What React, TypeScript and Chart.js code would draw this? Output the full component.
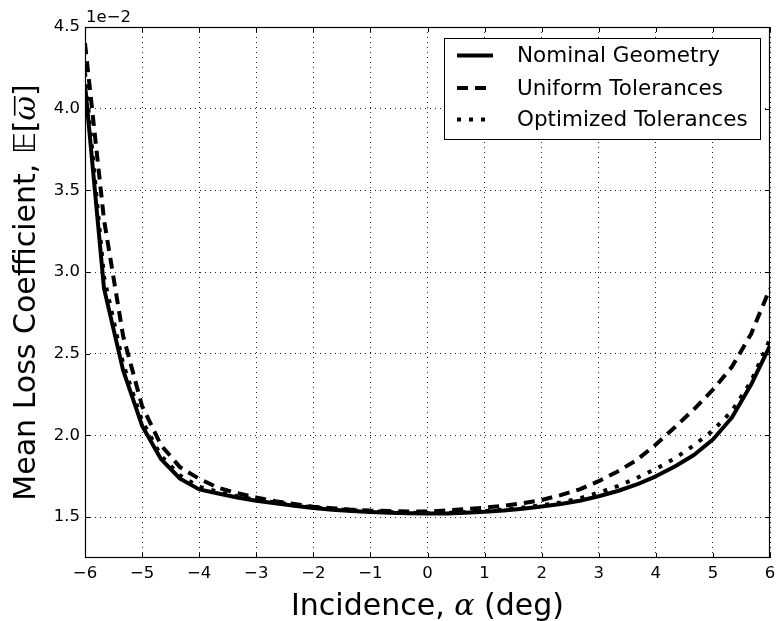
import React, { useEffect, useRef } from "react";
import { Chart, registerables } from "chart.js";

Chart.register(...registerables);

// Incidence angle (deg), sampled every 1/3 degree
const incidence = [
  -6, -5.667, -5.333, -5, -4.667, -4.333, -4, -3.667, -3.333, -3, -2.667, -2.333,
  -2, -1.667, -1.333, -1, -0.667, -0.333, 0, 0.333, 0.667, 1, 1.333, 1.667,
  2, 2.333, 2.667, 3, 3.333, 3.667, 4, 4.333, 4.667, 5, 5.333, 5.667, 6,
];

// Mean loss coefficient, in units of 1e-2
const nominalGeometry = [
  4.15, 2.9, 2.4, 2.06, 1.855, 1.735, 1.67, 1.645, 1.62, 1.6, 1.585, 1.57,
  1.556, 1.546, 1.538, 1.532, 1.527, 1.524, 1.522, 1.523, 1.527, 1.533, 1.541, 1.552,
  1.565, 1.58, 1.6, 1.628, 1.66, 1.7, 1.75, 1.81, 1.88, 1.975, 2.11, 2.31, 2.55,
];
const uniformTolerances = [
  4.4, 3.32, 2.61, 2.18, 1.94, 1.805, 1.735, 1.68, 1.647, 1.62, 1.597, 1.58,
  1.564, 1.555, 1.546, 1.54, 1.537, 1.535, 1.534, 1.542, 1.55, 1.558, 1.569, 1.585,
  1.605, 1.635, 1.67, 1.72, 1.78, 1.85, 1.945, 2.05, 2.16, 2.28, 2.42, 2.62, 2.9,
];
const optimizedTolerances = [
  4.22, 2.97, 2.44, 2.09, 1.875, 1.755, 1.685, 1.655, 1.628, 1.607, 1.59, 1.575,
  1.56, 1.55, 1.542, 1.536, 1.531, 1.527, 1.525, 1.527, 1.531, 1.537, 1.546, 1.558,
  1.573, 1.59, 1.615, 1.65, 1.69, 1.74, 1.795, 1.86, 1.94, 2.03, 2.15, 2.33, 2.59,
];

const seriesLabels = ["Nominal Geometry", "Uniform Tolerances", "Optimized Tolerances"];

const xTicks = [-6, -5, -4, -3, -2, -1, 0, 1, 2, 3, 4, 5, 6];
const yTicks = [1.5, 2.0, 2.5, 3.0, 3.5, 4.0, 4.5];
const yOffsetLabel = "1e\u22122";

const SANS = "'DejaVu Sans', 'Bitstream Vera Sans', sans-serif";
const SERIF = "'DejaVu Serif', serif";

type Run = { text: string; font: string; bar?: boolean };

function runsWidth(ctx: CanvasRenderingContext2D, runs: Run[]) {
  let w = 0;
  for (const r of runs) {
    ctx.font = r.font;
    w += ctx.measureText(r.text).width;
  }
  return w;
}

function drawRuns(ctx: CanvasRenderingContext2D, runs: Run[], xStart: number, y: number, size: number) {
  let x = xStart;
  for (const r of runs) {
    ctx.font = r.font;
    const w = ctx.measureText(r.text).width;
    ctx.fillText(r.text, x, y);
    if (r.bar) {
      ctx.save();
      ctx.lineWidth = 1.6;
      ctx.beginPath();
      const by = y - size * 0.66;
      ctx.moveTo(x + w * 0.2, by);
      ctx.lineTo(x + w * 1.0, by);
      ctx.stroke();
      ctx.restore();
    }
    x += w;
  }
}

const axesDecorations = {
  id: "axesDecorations",
  afterDraw(chart: any) {
    const { ctx, chartArea, scales } = chart;
    const { left, right, top, bottom } = chartArea;
    ctx.save();
    ctx.strokeStyle = "#000";
    ctx.fillStyle = "#000";

    // inward tick marks on all four sides
    ctx.lineWidth = 1;
    ctx.beginPath();
    const tl = 5;
    for (const v of xTicks) {
      const px = Math.round(scales.x.getPixelForValue(v)) + 0.5;
      ctx.moveTo(px, bottom);
      ctx.lineTo(px, bottom - tl);
      ctx.moveTo(px, top);
      ctx.lineTo(px, top + tl);
    }
    for (const v of yTicks) {
      const py = Math.round(scales.y.getPixelForValue(v)) + 0.5;
      ctx.moveTo(left, py);
      ctx.lineTo(left + tl, py);
      ctx.moveTo(right, py);
      ctx.lineTo(right - tl, py);
    }
    ctx.stroke();

    // axes frame
    ctx.lineWidth = 1.2;
    ctx.strokeRect(left + 0.5, top + 0.5, right - left - 1, bottom - top - 1);

    // scale offset text
    ctx.font = `16.5px ${SANS}`;
    ctx.textAlign = "left";
    ctx.textBaseline = "alphabetic";
    ctx.fillText(yOffsetLabel, left + 1, top - 5);

    // x axis title
    const xs = 30;
    const xRuns: Run[] = [
      { text: "Incidence, ", font: `${xs}px ${SANS}` },
      { text: "\u03b1", font: `italic ${xs}px ${SERIF}` },
      { text: " (deg)", font: `${xs}px ${SANS}` },
    ];
    const xw = runsWidth(ctx, xRuns);
    drawRuns(ctx, xRuns, (left + right) / 2 - xw / 2, 615, xs);

    // y axis title
    const ys = 30;
    const yRuns: Run[] = [
      { text: "Mean Loss Coefficient, ", font: `${ys}px ${SANS}` },
      { text: "\ud835\udd3c", font: `${ys}px ${SANS}` },
      { text: "[", font: `${ys}px ${SANS}` },
      { text: "\u03c9", font: `italic ${ys}px ${SERIF}`, bar: true },
      { text: "]", font: `${ys}px ${SANS}` },
    ];
    const yw = runsWidth(ctx, yRuns);
    ctx.save();
    ctx.translate(34.5, (top + bottom) / 2);
    ctx.rotate(-Math.PI / 2);
    drawRuns(ctx, yRuns, -yw / 2, 0, ys);
    ctx.restore();

    // legend
    const box = { x: 444.5, y: 38.5, w: 316, h: 101 };
    ctx.fillStyle = "#fff";
    ctx.fillRect(box.x, box.y, box.w, box.h);
    ctx.lineWidth = 1;
    ctx.strokeRect(box.x, box.y, box.w, box.h);
    const rows = [55.5, 88, 119.5];
    ctx.font = `21.5px ${SANS}`;
    ctx.textBaseline = "middle";
    chart.data.datasets.forEach((ds: any, i: number) => {
      const y = rows[i];
      ctx.save();
      ctx.strokeStyle = ds.borderColor;
      ctx.lineWidth = ds.borderWidth;
      ctx.setLineDash(ds.borderDash || []);
      ctx.lineCap = "butt";
      ctx.beginPath();
      ctx.moveTo(457, y);
      ctx.lineTo(493, y);
      ctx.stroke();
      ctx.restore();
      ctx.fillStyle = "#000";
      ctx.fillText(ds.label, 517, y + 1);
    });

    ctx.restore();
  },
};

export default function App() {
  const canvasRef = useRef<HTMLCanvasElement | null>(null);

  useEffect(() => {
    const canvas = canvasRef.current;
    if (!canvas) return;

    Chart.defaults.font.family = SANS;
    Chart.defaults.color = "#000";

    const toPoints = (ys: number[]) => incidence.map((x, i) => ({ x, y: ys[i] }));

    const chart = new Chart(canvas, {
      type: "line",
      data: {
        datasets: [
          {
            label: seriesLabels[0],
            data: toPoints(nominalGeometry),
            borderColor: "#000",
            borderWidth: 4,
            borderDash: [],
            order: 3,
          },
          {
            label: seriesLabels[1],
            data: toPoints(uniformTolerances),
            borderColor: "#000",
            borderWidth: 4,
            borderDash: [11, 7],
            order: 2,
          },
          {
            label: seriesLabels[2],
            data: toPoints(optimizedTolerances),
            borderColor: "#000",
            borderWidth: 4,
            borderDash: [4, 8],
            order: 1,
          },
        ],
      },
      options: {
        responsive: false,
        animation: false,
        parsing: false,
        layout: { padding: { top: 27, right: 6, left: 0, bottom: 0 } },
        elements: {
          point: { radius: 0, hoverRadius: 0 },
          line: { tension: 0, fill: false, borderJoinStyle: "round", borderCapStyle: "butt" },
        },
        plugins: {
          legend: { display: false },
          tooltip: { enabled: false },
        },
        scales: {
          x: {
            type: "linear",
            min: -6,
            max: 6,
            afterBuildTicks: (s: any) => {
              s.ticks = xTicks.map((value) => ({ value }));
            },
            afterFit: (s: any) => {
              s.height = 63;
              s.paddingLeft = 0;
              s.paddingRight = 0;
            },
            ticks: {
              padding: 6,
              maxRotation: 0,
              autoSkip: false,
              font: { size: 16.5, family: SANS },
              color: "#000",
              callback: (v: any) => (v < 0 ? "\u2212" + Math.abs(v) : String(v)),
            },
            grid: { color: "#222", lineWidth: 1, drawTicks: false },
            border: { display: false, dash: [1, 4] },
          },
          y: {
            type: "linear",
            min: 1.25,
            max: 4.5,
            afterBuildTicks: (s: any) => {
              s.ticks = yTicks.map((value) => ({ value }));
            },
            afterFit: (s: any) => {
              s.width = 85;
              s.paddingTop = 0;
              s.paddingBottom = 0;
            },
            ticks: {
              padding: 5,
              autoSkip: false,
              font: { size: 16.5, family: SANS },
              color: "#000",
              callback: (v: any) => Number(v).toFixed(1),
            },
            grid: { color: "#222", lineWidth: 1, drawTicks: false },
            border: { display: false, dash: [1, 4] },
          },
        },
      },
      plugins: [axesDecorations],
    });

    return () => chart.destroy();
  }, []);

  return (
    <div style={{ position: "fixed", left: 0, top: 0, width: 776, height: 621, background: "#fff" }}>
      <canvas ref={canvasRef} width={776} height={621} style={{ display: "block" }} />
    </div>
  );
}
